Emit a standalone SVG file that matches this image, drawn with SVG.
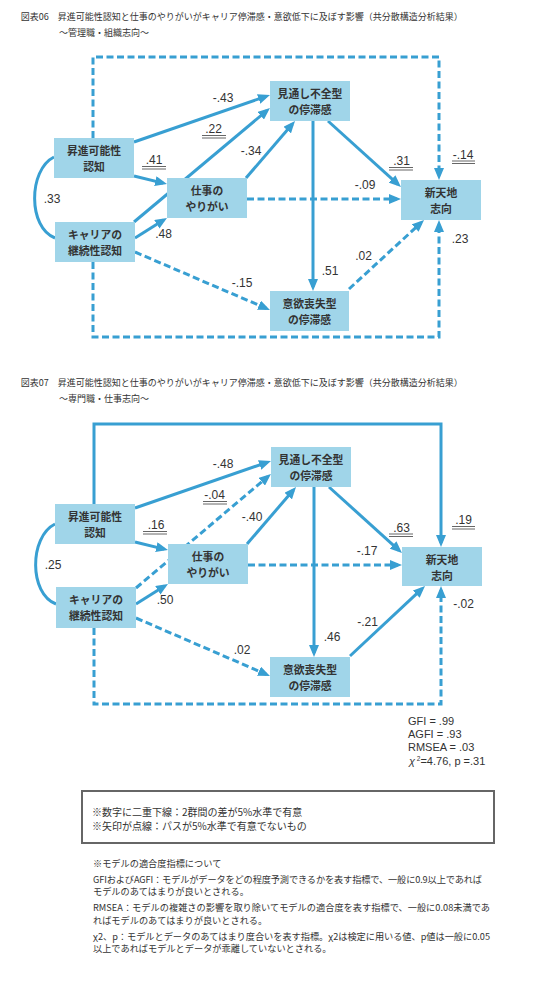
<svg xmlns="http://www.w3.org/2000/svg" width="550" height="982" viewBox="0 0 550 982">
<defs>
<style>
.bg{fill:#ffffff}
.box{fill:#a0d5e9}
.bt{font-family:'Noto Sans CJK JP',sans-serif;font-size:10.8px;font-weight:600;fill:#333;text-anchor:middle}
.ttl{font-family:'Noto Sans CJK JP',sans-serif;font-size:9px;fill:#333}
.note{font-family:'Noto Sans CJK JP',sans-serif;font-size:9.2px;fill:#333}
.nb{font-family:'Noto Sans CJK JP',sans-serif;font-size:10px;fill:#333}
.num{font-family:'Liberation Sans',Arial,sans-serif;font-size:12px;fill:#333;text-anchor:middle}
.fit{font-family:'Liberation Sans',Arial,sans-serif;font-size:11px;fill:#333}
.ln{fill:none;stroke:#389fd2;stroke-width:3}
.da{stroke-dasharray:7 3.5}
.arr{marker-end:url(#ah)}
.dbl{stroke:#666;stroke-width:1}
</style>
<marker id="ah" markerUnits="userSpaceOnUse" markerWidth="12" markerHeight="10" refX="8" refY="5" orient="auto">
<path d="M0,0 L12,5 L0,10 Z" fill="#389fd2"/>
</marker>
</defs>
<rect class="bg" x="0" y="0" width="550" height="982"/>

<!-- Titles -->
<g id="title-06">
<text class="ttl" x="20.7" y="19.5">図表06　昇進可能性認知と仕事のやりがいがキャリア停滞感・意欲低下に及ぼす影響（共分散構造分析結果）<tspan x="59" dy="16">～管理職・組織志向～</tspan></text>
</g>
<g id="title-07">
<text class="ttl" x="20.7" y="385.5">図表07　昇進可能性認知と仕事のやりがいがキャリア停滞感・意欲低下に及ぼす影響（共分散構造分析結果）<tspan x="59" dy="16">～専門職・仕事志向～</tspan></text>
</g>

<!-- Diagram 06 connectors -->
<g id="connectors-06">
<path class="ln da" d="M93,138 V57 H439 V176" marker-end="url(#ah)"/>
<path class="ln da" d="M93,262 V337 H439 V224" marker-end="url(#ah)"/>
<path class="ln" d="M54,157 C28,170 28,228 55,238"/>
<line class="ln arr" x1="134" y1="142" x2="266.2" y2="96.3"/>
<line class="ln arr" x1="134" y1="222" x2="266.9" y2="110.6"/>
<line class="ln arr" x1="134" y1="176" x2="163.1" y2="183.1"/>
<line class="ln arr" x1="135" y1="238" x2="163.6" y2="220.1"/>
<line class="ln arr" x1="246" y1="178" x2="292.4" y2="124"/>
<line class="ln da arr" x1="247" y1="199" x2="397" y2="199"/>
<line class="ln arr" x1="328" y1="121" x2="398" y2="184.3"/>
<line class="ln arr" x1="313" y1="121" x2="313" y2="287"/>
<line class="ln da arr" x1="135" y1="252" x2="266.3" y2="308.4"/>
<line class="ln da arr" x1="349" y1="289" x2="421.1" y2="222.7"/>
</g>
<g id="labels-06">
<text class="num" x="223" y="102">-.43</text>
<text class="num" x="213.5" y="133">.22</text>
<line class="dbl" x1="202" y1="135.5" x2="226" y2="135.5"/><line class="dbl" x1="202" y1="138" x2="226" y2="138"/>
<text class="num" x="154" y="164">.41</text>
<line class="dbl" x1="142" y1="166.5" x2="166" y2="166.5"/><line class="dbl" x1="142" y1="169" x2="166" y2="169"/>
<text class="num" x="163.5" y="237.5">.48</text>
<text class="num" x="251" y="155">-.34</text>
<text class="num" x="365" y="189">-.09</text>
<text class="num" x="401.5" y="165">.31</text>
<line class="dbl" x1="389" y1="167.5" x2="413" y2="167.5"/><line class="dbl" x1="389" y1="170" x2="413" y2="170"/>
<text class="num" x="463" y="158.5">-.14</text>
<line class="dbl" x1="452" y1="161" x2="475" y2="161"/><line class="dbl" x1="452" y1="163.5" x2="475" y2="163.5"/>
<text class="num" x="330" y="275">.51</text>
<text class="num" x="242" y="287">-.15</text>
<text class="num" x="363.5" y="260">.02</text>
<text class="num" x="460" y="242.5">.23</text>
<text class="num" x="52" y="202.5">.33</text>
</g>

<!-- Diagram 06 nodes -->
<g id="n06-shoshin"><rect class="box" x="54" y="138" width="80" height="40"/><text class="bt" x="94" y="155.2">昇進可能性<tspan x="94" dy="15.7">認知</tspan></text></g>
<g id="n06-career"><rect class="box" x="55" y="222" width="80" height="40"/><text class="bt" x="95" y="239.2">キャリアの<tspan x="95" dy="15.7">継続性認知</tspan></text></g>
<g id="n06-yarigai"><rect class="box" x="167" y="178" width="80" height="40"/><text class="bt" x="207" y="195.2">仕事の<tspan x="207" dy="15.7">やりがい</tspan></text></g>
<g id="n06-mitoshi"><rect class="box" x="270" y="81" width="80" height="40"/><text class="bt" x="310" y="98.2">見通し不全型<tspan x="310" dy="15.7">の停滞感</tspan></text></g>
<g id="n06-shintenchi"><rect class="box" x="401" y="180" width="80" height="40"/><text class="bt" x="441" y="197.2">新天地<tspan x="441" dy="15.7">志向</tspan></text></g>
<g id="n06-iyoku"><rect class="box" x="270" y="291" width="79" height="40"/><text class="bt" x="309.5" y="308.2">意欲喪失型<tspan x="309.5" dy="15.7">の停滞感</tspan></text></g>

<!-- Diagram 07 connectors -->
<g id="connectors-07">
<path class="ln" d="M94,504 V424 H441 V543" marker-end="url(#ah)"/>
<path class="ln da" d="M94,628 V704 H441 V590" marker-end="url(#ah)"/>
<path class="ln" d="M55,524 C29,537 29,594 56,604"/>
<line class="ln arr" x1="135" y1="508" x2="267.2" y2="462.3"/>
<line class="ln da arr" x1="136" y1="588" x2="267.9" y2="476.6"/>
<line class="ln arr" x1="135" y1="542" x2="164.1" y2="549.1"/>
<line class="ln arr" x1="136" y1="604" x2="164.6" y2="586.1"/>
<line class="ln arr" x1="247" y1="544" x2="293.4" y2="490"/>
<line class="ln da arr" x1="248" y1="565" x2="398" y2="565"/>
<line class="ln arr" x1="329" y1="487" x2="399" y2="550.3"/>
<line class="ln arr" x1="314" y1="487" x2="314" y2="653"/>
<line class="ln da arr" x1="136" y1="618" x2="266.3" y2="674.4"/>
<line class="ln arr" x1="350" y1="656" x2="422.1" y2="588.7"/>
</g>
<g id="labels-07">
<text class="num" x="223" y="467.5">-.48</text>
<text class="num" x="214.5" y="499.3">-.04</text>
<line class="dbl" x1="203" y1="501.5" x2="227" y2="501.5"/><line class="dbl" x1="203" y1="504" x2="227" y2="504"/>
<text class="num" x="156" y="529.3">.16</text>
<line class="dbl" x1="143" y1="531.5" x2="167" y2="531.5"/><line class="dbl" x1="143" y1="534" x2="167" y2="534"/>
<text class="num" x="165" y="604">.50</text>
<text class="num" x="252" y="521">-.40</text>
<text class="num" x="367" y="555">-.17</text>
<text class="num" x="401.5" y="531.5">.63</text>
<line class="dbl" x1="389" y1="534" x2="413" y2="534"/><line class="dbl" x1="389" y1="536.5" x2="413" y2="536.5"/>
<text class="num" x="463.5" y="524.3">.19</text>
<line class="dbl" x1="452" y1="526.5" x2="475" y2="526.5"/><line class="dbl" x1="452" y1="529" x2="475" y2="529"/>
<text class="num" x="332" y="641">.46</text>
<text class="num" x="242" y="653.5">.02</text>
<text class="num" x="367.5" y="626">-.21</text>
<text class="num" x="463.5" y="608">-.02</text>
<text class="num" x="53" y="569">.25</text>
</g>

<!-- Diagram 07 nodes -->
<g id="n07-shoshin"><rect class="box" x="55" y="504" width="80" height="40"/><text class="bt" x="95" y="521.2">昇進可能性<tspan x="95" dy="15.7">認知</tspan></text></g>
<g id="n07-career"><rect class="box" x="56" y="587" width="80" height="41"/><text class="bt" x="96" y="604.4">キャリアの<tspan x="96" dy="15.7">継続性認知</tspan></text></g>
<g id="n07-yarigai"><rect class="box" x="168" y="544" width="80" height="40"/><text class="bt" x="208" y="561.2">仕事の<tspan x="208" dy="15.7">やりがい</tspan></text></g>
<g id="n07-mitoshi"><rect class="box" x="271" y="447" width="80" height="40"/><text class="bt" x="311" y="464.2">見通し不全型<tspan x="311" dy="15.7">の停滞感</tspan></text></g>
<g id="n07-shintenchi"><rect class="box" x="402" y="547" width="80" height="39"/><text class="bt" x="442" y="564">新天地<tspan x="442" dy="15.7">志向</tspan></text></g>
<g id="n07-iyoku"><rect class="box" x="270" y="657" width="80" height="40"/><text class="bt" x="310" y="674.2">意欲喪失型<tspan x="310" dy="15.7">の停滞感</tspan></text></g>

<!-- Fit indices -->
<g id="fit-indices">
<text class="fit" x="408" y="724.5">GFI = .99<tspan x="408" y="738">AGFI = .93</tspan><tspan x="408" y="751">RMSEA = .03</tspan><tspan x="409" y="764.5" font-style="italic">χ</tspan><tspan font-size="6.5" dy="-4"> 2</tspan><tspan dy="4">=4.76, p =.31</tspan></text>
</g>

<!-- Legend box -->
<g id="legend">
<rect x="82" y="791" width="412" height="52" fill="none" stroke="#666" stroke-width="2"/>
<text class="nb" x="92" y="816">※数字に二重下線：2群間の差が5%水準で有意<tspan x="92" y="830">※矢印が点線：パスが5%水準で有意でないもの</tspan></text>
</g>

<!-- Notes -->
<g id="notes">
<text class="note" x="93" y="866.5">※モデルの適合度指標について<tspan x="93" y="882.5" textLength="389" lengthAdjust="spacing">GFIおよびAGFI：モデルがデータをどの程度予測できるかを表す指標で、一般に0.9以上であれば</tspan><tspan x="93" y="895">モデルのあてはまりが良いとされる。</tspan><tspan x="93" y="911" textLength="397" lengthAdjust="spacing">RMSEA：モデルの複雑さの影響を取り除いてモデルの適合度を表す指標で、一般に0.08未満であ</tspan><tspan x="93" y="923.5">ればモデルのあてはまりが良いとされる。</tspan><tspan x="93" y="939.5" textLength="397" lengthAdjust="spacing">χ2、p：モデルとデータのあてはまり度合いを表す指標。χ2は検定に用いる値、p値は一般に0.05</tspan><tspan x="93" y="952">以上であればモデルとデータが乖離していないとされる。</tspan></text>
</g>
</svg>
